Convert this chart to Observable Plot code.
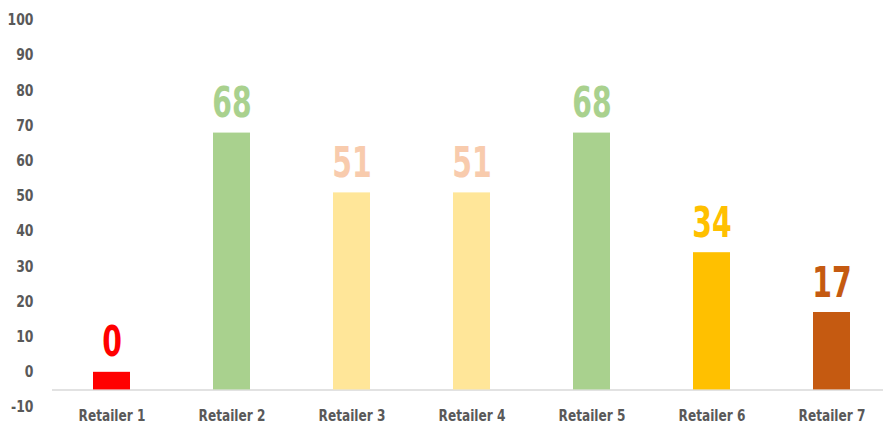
<!DOCTYPE html>
<html>
<head>
<meta charset="utf-8">
<script src="https://cdn.jsdelivr.net/npm/d3@7"></script>
<script src="https://cdn.jsdelivr.net/npm/@observablehq/plot@0.6"></script>
<style>
  html, body { margin: 0; padding: 0; background: #fff; }
  #chart svg { font-family: "DejaVu Sans Condensed", "DejaVu Sans", sans-serif; font-weight: bold; }
</style>
</head>
<body>
<div id="chart"></div>
<script>
const categories = ["Retailer 1", "Retailer 2", "Retailer 3", "Retailer 4", "Retailer 5", "Retailer 6", "Retailer 7"];
const values = [0, 68, 51, 51, 68, 34, 17];
const barColors = ["#FF0000", "#A9D18E", "#FFE699", "#FFE699", "#A9D18E", "#FFC000", "#C55A11"];
const labelColors = ["#FF0000", "#A9D18E", "#F8CBAD", "#F8CBAD", "#A9D18E", "#FFC000", "#C55A11"];
const yTicks = [-10, 0, 10, 20, 30, 40, 50, 60, 70, 80, 90, 100];
const baseline = -5;

const data = categories.map((name, i) => ({name, value: values[i], bar: barColors[i], label: labelColors[i]}));

const chart = Plot.plot({
  width: 883,
  height: 425,
  marginLeft: 52,
  marginRight: 0,
  marginTop: 20,
  marginBottom: 18,
  x: {domain: categories, range: [52, 892], paddingInner: 0.69, paddingOuter: 0.345, label: null},
  y: {domain: [-10, 100], range: [407, 20], label: null},
  color: {type: "identity"},
  marks: [
    Plot.axisY({ticks: yTicks, tickFormat: d => String(d), tickSize: 0, tickPadding: 19, fontSize: 15, fill: "#595959", label: null}),
    Plot.axisX({tickSize: 0, tickPadding: 2, fontSize: 16.5, fill: "#595959", label: null}),
    Plot.ruleY([baseline], {stroke: "#D9D9D9", strokeWidth: 1.5}),
    Plot.barY(data, {x: "name", y1: () => baseline, y2: "value", fill: "bar"}),
    Plot.text(data, {x: "name", y: "value", text: d => String(d.value), fill: "label", fontSize: 42.5, lineAnchor: "bottom", dy: -16})
  ]
});
document.getElementById("chart").appendChild(chart);

function squeeze(selector, sx, ax) {
  chart.querySelectorAll(selector).forEach(el => {
    const b = el.getBBox();
    const cx = ax === "right" ? b.x + b.width : b.x + b.width / 2;
    const cy = b.y + b.height / 2;
    const t = el.getAttribute("transform") || "";
    el.setAttribute("transform", `${t} translate(${cx},${cy}) scale(${sx},1) translate(${-cx},${-cy})`);
  });
}
squeeze('g[aria-label="text"] text', 0.74, "center");
squeeze('g[aria-label="x-axis tick label"] text', 0.82, "center");
squeeze('g[aria-label="y-axis tick label"] text', 0.92, "right");
</script>
</body>
</html>
